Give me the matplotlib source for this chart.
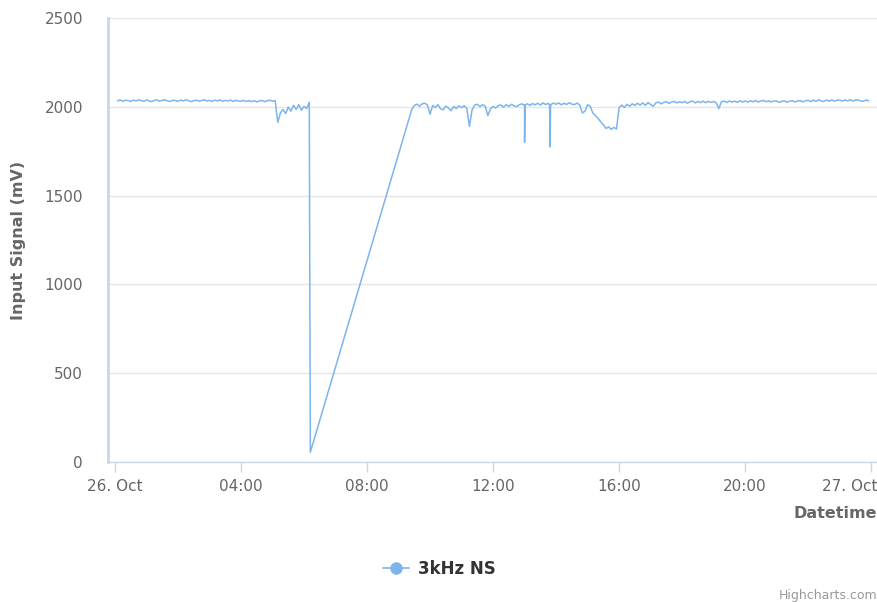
import numpy as np
import matplotlib.pyplot as plt
import matplotlib.transforms as mtransforms
from matplotlib.lines import Line2D

LINE = "#7cb5ec"
AXIS = "#ccd6eb"
GRID = "#e6e6e6"
LABEL = "#666666"

# first stretch: 00:05 -> 06:10, one reading every 5 minutes (mV)
seg_a_start = 5 / 60
seg_a = [
    2034, 2039, 2031, 2037, 2035, 2030, 2038, 2033, 2039, 2035, 2031,
    2038, 2033, 2029, 2036, 2039, 2032, 2036, 2040, 2033, 2030, 2037, 2035,
    2031, 2038, 2033, 2039, 2035, 2029, 2034, 2038, 2031, 2036, 2039, 2033,
    2036, 2030, 2038, 2033, 2039, 2031, 2036, 2033, 2038, 2030, 2036, 2033,
    2031, 2036, 2030, 2035, 2029, 2034, 2028, 2033, 2036, 2029, 2034, 2037,
    2031, 2035, 1912, 1965, 1985, 1962, 1998, 1975, 2008, 1985, 2012, 1980,
    2003, 1990, 2025,
]

# outage: the signal falls to almost nothing, next reading only at 09:25
gap_hours = [6.2, 9.42]
gap_vals = [55, 1985]

# second stretch: 09:30 -> 23:55, every 5 minutes
seg_b_start = 9.5
seg_b = [
    2008, 2015, 2003, 2017, 2020, 2010,
    1958, 2007, 1996, 2012, 1988, 1983, 2004, 1993, 1978, 2002, 1990, 2005,
    1995, 2006, 1991, 1890, 1983, 2010, 2014, 2001, 2012, 2004, 1950, 1988,
    2002, 1993, 2007, 2010, 1998, 2012, 2002, 2014, 2005, 2001, 2012, 2016,
    2010, 2017, 2008, 2018, 2011, 2020, 2010, 2022, 2013, 2019, 2012, 2021,
    2014, 2022, 2011, 2020, 2013, 2023, 2015, 2012, 2021, 2010, 1965, 1975,
    2012, 2003, 1965, 1950, 1935, 1915, 1900, 1878, 1887, 1873, 1884, 1875,
    1995, 2010, 1996, 2014, 2003, 2017, 2008, 2020, 2010, 2022, 2008, 2024,
    2013, 2003, 2022, 2027, 2016, 2025, 2029, 2019, 2027, 2030, 2022, 2029,
    2023, 2031, 2020, 2029, 2032, 2022, 2030, 2024, 2032, 2023, 2031, 2025,
    2030, 2023, 1990, 2029, 2032, 2024, 2033, 2026, 2032, 2025, 2034, 2027,
    2033, 2026, 2034, 2028, 2035, 2027, 2033, 2036, 2028, 2034, 2027, 2033,
    2032, 2025, 2031, 2033, 2026, 2032, 2034, 2027, 2033, 2035, 2028, 2034,
    2036, 2029, 2038, 2031, 2039, 2033, 2030, 2038, 2032, 2039, 2031, 2037,
    2038, 2032, 2039, 2033, 2040, 2032, 2038, 2039, 2033, 2031, 2038, 2034,
]

# short single-reading drops
spike_hours = [13.0, 13.81]
spike_vals = [1800, 1775]

tick_hours = [0, 4, 8, 12, 16, 20, 24]
tick_labels = ["26. Oct", "04:00", "08:00", "12:00", "16:00", "20:00", "27. Oct"]

# build one time series
t_a = seg_a_start + np.arange(len(seg_a)) * 5 / 60
t_b = seg_b_start + np.arange(len(seg_b)) * 5 / 60
t = np.concatenate([t_a, gap_hours, t_b, spike_hours])
v = np.concatenate([seg_a, gap_vals, seg_b, spike_vals]).astype(float)
# spikes are one-minute readings: keep neighbours tight around them
for sh in spike_hours:
    i = np.argmin(np.abs(t_b - sh))
    t = np.concatenate([t, [sh - 1 / 60, sh + 1 / 60]])
    v = np.concatenate([v, [seg_b[i], seg_b[i]]])
order = np.argsort(t)
t, v = t[order], v[order]

fig = plt.figure(figsize=(8.78, 6.02), dpi=100)
ax = fig.add_axes([0.123, 0.2326, 0.876, 0.7375])

ax.plot(t, v, color=LINE, lw=1.1, label="3kHz NS")

ax.set_xlim(-0.222, 24.19)
ax.set_ylim(0, 2500)
ax.set_yticks([0, 500, 1000, 1500, 2000, 2500])
ax.set_xticks(tick_hours)
ax.set_xticklabels(tick_labels)
ax.grid(axis="y", color=GRID, lw=1)
ax.set_axisbelow(True)

for s in ["top", "right"]:
    ax.spines[s].set_visible(False)
ax.spines["left"].set_color(AXIS)
ax.spines["left"].set_linewidth(2)
ax.spines["bottom"].set_color(AXIS)
ax.spines["bottom"].set_linewidth(1)

ax.tick_params(axis="x", colors=AXIS, length=7, width=1, pad=5,
               labelcolor=LABEL, labelsize=11)
ax.tick_params(axis="y", length=0, pad=18, labelcolor=LABEL, labelsize=11)

# last label is pushed inside the figure, as in the original
last = ax.get_xticklabels()[-1]
last.set_horizontalalignment("right")
last.set_transform(last.get_transform() + mtransforms.ScaledTranslation(
    6 / 100, 0, fig.dpi_scale_trans))

ax.set_ylabel("Input Signal (mV)", color=LABEL, fontsize=11.5,
              fontweight="bold", labelpad=13)
fig.text(0.999, 1 - 514 / 602, "Datetime", ha="right", va="center",
         color=LABEL, fontsize=11.5, fontweight="bold")

handle = Line2D([], [], color=LINE, lw=1.2, marker="o", markersize=8)
fig.legend([handle], ["3kHz NS"], loc="center",
           bbox_to_anchor=(0.5, 1 - 569 / 602), frameon=False,
           prop={"weight": "bold", "size": 12}, labelcolor="#333333",
           handlelength=1.6, handletextpad=0.5)

fig.text(0.999, 1 - 596 / 602, "Highcharts.com", ha="right", va="center",
         color="#999999", fontsize=9)

fig.savefig("out.png", dpi=100)
